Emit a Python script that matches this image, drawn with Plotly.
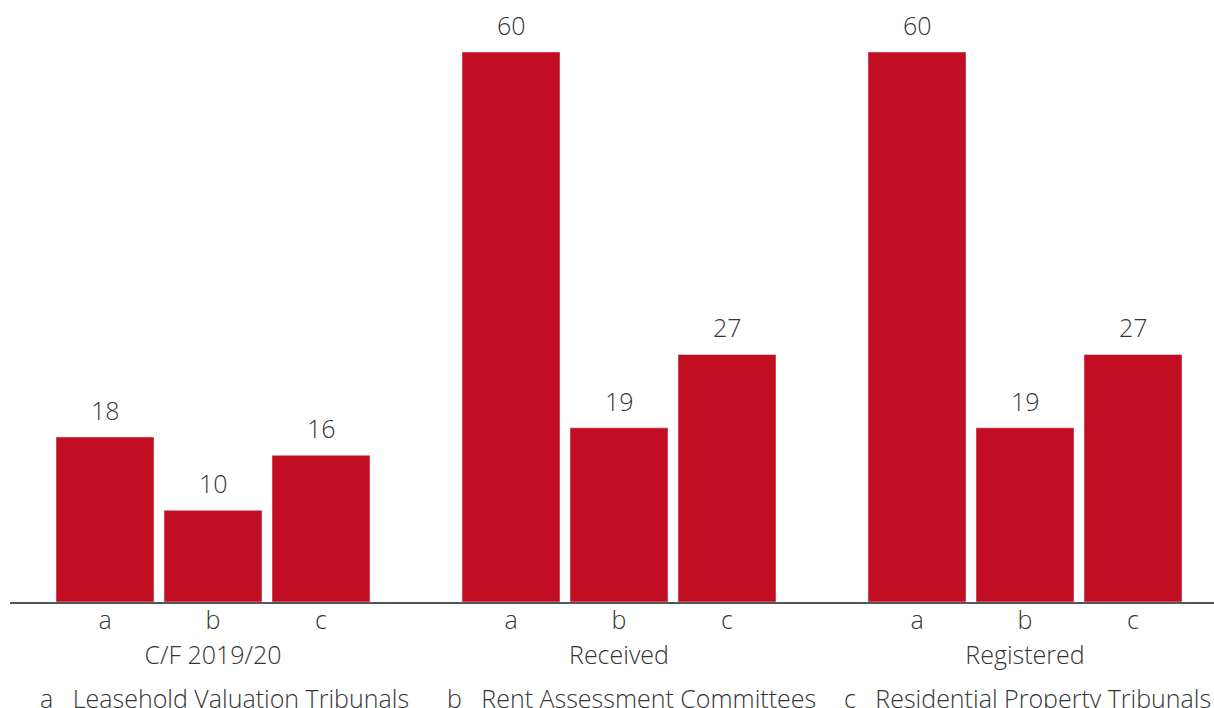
import plotly.graph_objects as go

groups = ["C/F 2019/20", "Received", "Registered"]
subs = ["a", "b", "c"]
values_a = [18, 60, 60]
values_b = [10, 19, 19]
values_c = [16, 27, 27]
legend_names = ["Leasehold Valuation Tribunals", "Rent Assessment Committees",
                "Residential Property Tribunals"]

series = [values_a, values_b, values_c]
BAR = "#C10E22"
TXT = "#353535"
FONT = "Open Sans"
FW = 300
FS = 25
bargap = 0.202
groupgap = 0.0926
slot = (1 - bargap) / 3

gx = list(range(len(groups)))
fig = go.Figure()
for j, vals in enumerate(series):
    fig.add_trace(go.Bar(x=gx, y=vals, name=subs[j], marker_color=BAR,
                         showlegend=False, hoverinfo="y"))
# invisible helper so the group-label axis renders
fig.add_trace(go.Scatter(x=gx, y=[0] * len(gx), xaxis="x2", mode="markers",
                         marker=dict(opacity=0), showlegend=False, hoverinfo="skip"))

sub_pos, sub_txt = [], []
for gi in gx:
    for j, s in enumerate(subs):
        sub_pos.append(gi + (j - 1) * slot)
        sub_txt.append(s)

fnt = dict(family=FONT, size=FS, color=TXT, weight=FW)
annotations = []
for j, vals in enumerate(series):
    for gi, v in zip(gx, vals):
        annotations.append(dict(x=gi + (j - 1) * slot, y=v, xref="x", yref="y",
                                text=str(v), showarrow=False, yanchor="bottom",
                                yshift=8, font=fnt))

legend_x = [224.5, 631.5, 1027.5]
for j, name in enumerate(legend_names):
    annotations.append(dict(x=(legend_x[j] - 10) / 1204, y=-0.159, xref="paper", yref="paper",
                            text=subs[j] + "\u00a0\u00a0\u00a0" + name, showarrow=False,
                            xanchor="center", yanchor="middle", font=fnt))

rng = [-0.5, 2.4655]
fig.update_layout(
    width=1214, height=708,
    margin=dict(l=10, r=0, t=0, b=106),
    plot_bgcolor="white", paper_bgcolor="white",
    barmode="group", bargap=bargap, bargroupgap=groupgap,
    font=fnt,
    xaxis=dict(range=rng, tickvals=sub_pos, ticktext=sub_txt, ticks="",
               showline=True, linecolor="#555555", linewidth=1.5,
               showgrid=False, zeroline=False, fixedrange=True,
               ticklabelstandoff=-5, tickfont=fnt),
    xaxis2=dict(range=rng, overlaying="x", side="bottom", anchor="y",
                tickvals=gx, ticktext=groups, ticks="", showline=False,
                showgrid=False, zeroline=False, ticklabelstandoff=36,
                tickfont=fnt),
    yaxis=dict(range=[0, 65.67], visible=False, showgrid=False, zeroline=False),
    annotations=annotations,
)
fig.write_html("out.html")
